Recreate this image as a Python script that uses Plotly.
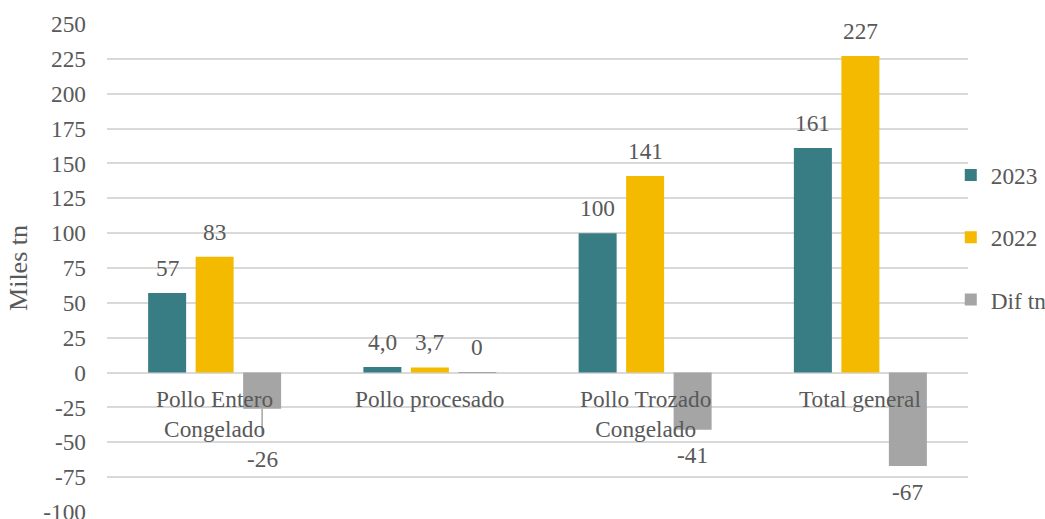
import plotly.graph_objects as go

categories = ["Pollo Entero Congelado", "Pollo procesado", "Pollo Trozado Congelado", "Total general"]
category_labels = ["Pollo Entero<br>Congelado", "Pollo procesado", "Pollo Trozado<br>Congelado", "Total general"]
series_names = ["2023", "2022", "Dif tn"]
values_2023 = [57, 4.0, 100, 161]
values_2022 = [83, 3.7, 141, 227]
values_dif = [-26, 0.3, -41, -67]
labels_2023 = ["57", "4,0", "100", "161"]
labels_2022 = ["83", "3,7", "141", "227"]
labels_dif = ["-26", "0", "-41", "-67"]
y_ticks = [-100, -75, -50, -25, 0, 25, 50, 75, 100, 125, 150, 175, 200, 225, 250]

colors = ["#387C84", "#F4BA00", "#A5A5A5"]
FONT = "Liberation Serif"
TXT = "#595959"
FS = 23.3

series_values = [values_2023, values_2022, values_dif]
series_labels = [labels_2023, labels_2022, labels_dif]

fig = go.Figure()
for name, vals, col in zip(series_names, series_values, colors):
    fig.add_trace(go.Bar(x=categories, y=vals, name=name, marker_color=col,
                         marker_line_width=0, legendgroup=name))

slot = 47.5  # pixel spacing between bars in a group
annotations = []
neg_shift = {"-26": -50, "-41": -25, "-67": -26}
for i, (vals, labs) in enumerate(zip(series_values, series_labels)):
    for cat, v, lab in zip(categories, vals, labs):
        a = dict(x=cat, y=v, text=lab, xshift=(i - 1) * slot, showarrow=False,
                 font=dict(family=FONT, size=FS, color=TXT), yanchor="middle")
        if v >= 0:
            a["yshift"] = 25
        else:
            a["yshift"] = neg_shift.get(lab, -26)
            if lab == "-26":
                a.update(showarrow=True, arrowhead=0, arrowwidth=1.5, arrowcolor="#A5A5A5",
                         ax=0, ay=50, yshift=0, startstandoff=10, standoff=0)
        annotations.append(a)

for cat, lab in zip(categories, category_labels):
    annotations.append(dict(x=cat, y=0, text=lab, showarrow=False, yanchor="top", yshift=-11,
                            font=dict(family=FONT, size=FS, color=TXT)))

fig.update_layout(
    width=1045, height=519,
    margin=dict(l=107, r=77, t=24, b=7, autoexpand=False),
    paper_bgcolor="white", plot_bgcolor="white",
    barmode="group", bargap=0.338, bargroupgap=0.2,
    font=dict(family=FONT, size=FS, color=TXT),
    showlegend=True,
    legend=dict(x=0.98, xanchor="left", y=0.735, yanchor="top",
                font=dict(family=FONT, size=FS, color=TXT),
                tracegroupgap=29, bgcolor="rgba(0,0,0,0)"),
    annotations=annotations,
)
fig.update_xaxes(showticklabels=False, showgrid=False, zeroline=False, showline=False, ticks="")
fig.update_yaxes(range=[-100, 250], tickvals=y_ticks, ticktext=[str(t) for t in y_ticks],
                 showgrid=True, gridcolor="#D9D9D9", gridwidth=1.5,
                 zeroline=True, zerolinecolor="#D9D9D9", zerolinewidth=1.5,
                 ticks="", ticklabelstandoff=20, ticklabeloverflow="allow",
                 tickfont=dict(family=FONT, size=FS, color=TXT),
                 title=dict(text="Miles tn", font=dict(family=FONT, size=26, color=TXT), standoff=8))

fig.write_html("out.html", config={"displayModeBar": False},
               post_script="document.body.style.margin='0';")
